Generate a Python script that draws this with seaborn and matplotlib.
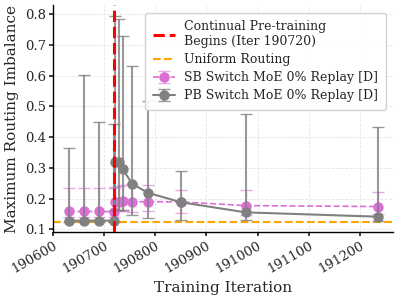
import matplotlib
matplotlib.use("Agg")
import matplotlib.pyplot as plt
import seaborn as sns
import numpy as np
import pandas as pd

# Data
iters = [190630, 190660, 190690, 190719, 190721, 190729, 190736, 190754, 190785, 190850, 190977, 191235]
pb_mean = [0.128, 0.128, 0.128, 0.128, 0.320, 0.318, 0.297, 0.249, 0.219, 0.188, 0.155, 0.141]
pb_low = [0.125, 0.125, 0.125, 0.125, 0.162, 0.162, 0.162, 0.145, 0.137, 0.131, 0.131, 0.126]
pb_high = [0.366, 0.601, 0.449, 0.443, 0.796, 0.785, 0.729, 0.631, 0.519, 0.290, 0.477, 0.432]
sb_mean = [0.158, 0.158, 0.158, 0.157, 0.188, 0.189, 0.191, 0.189, 0.190, 0.189, 0.177, 0.174]
sb_low = [0.139, 0.139, 0.139, 0.139, 0.160, 0.158, 0.158, 0.155, 0.160, 0.153, 0.145, 0.150]
sb_high = [0.235, 0.235, 0.235, 0.235, 0.238, 0.240, 0.243, 0.249, 0.245, 0.227, 0.227, 0.221]
cpt_iter = 190720
uniform = 0.125

sns.set_theme(style="whitegrid")
plt.rcParams['font.family'] = ['DejaVu Serif']
plt.rcParams['grid.linestyle'] = '--'
plt.rcParams['grid.color'] = '#e4e4e4'
plt.rcParams['grid.linewidth'] = 0.6

df = pd.DataFrame({"iter": iters, "pb": pb_mean, "sb": sb_mean})

fig, ax = plt.subplots(figsize=(3.99, 2.95), dpi=100)
fig.subplots_adjust(left=0.133, right=0.985, top=0.982, bottom=0.214)

ax.axvline(cpt_iter, color='red', linestyle='--', linewidth=2.2,
           label='Continual Pre-training\nBegins (Iter 190720)', zorder=5)
ax.axhline(uniform, color='orange', linestyle='--', linewidth=1.5,
           label='Uniform Routing', zorder=1)

sb_err = [np.array(sb_mean) - np.array(sb_low), np.array(sb_high) - np.array(sb_mean)]
eb1 = ax.errorbar(df["iter"], df["sb"], yerr=sb_err, color='orchid', linestyle='--',
                  linewidth=1.2, marker='o', markersize=6.5, capsize=4,
                  elinewidth=1.0, ecolor=(0.855, 0.439, 0.839, 0.6),
                  label='SB Switch MoE 0% Replay [D]', zorder=3)

pb_err = [np.array(pb_mean) - np.array(pb_low), np.array(pb_high) - np.array(pb_mean)]
eb2 = ax.errorbar(df["iter"], df["pb"], yerr=pb_err, color='gray', linestyle='-',
                  linewidth=1.5, marker='o', markersize=6.5, capsize=4,
                  elinewidth=1.5, ecolor=(0.5, 0.5, 0.5, 0.8),
                  label='PB Switch MoE 0% Replay [D]', zorder=4)

ax.set_xlabel("Training Iteration", fontsize=11)
ax.set_ylabel("Maximum Routing Imbalance", fontsize=11)
ax.tick_params(axis='both', labelsize=9.5, length=3, left=True, bottom=True, pad=2)
plt.setp(ax.get_xticklabels(), rotation=30, ha='right', rotation_mode='anchor')
for s in ['top', 'right']:
    ax.spines[s].set_visible(False)
for s in ['left', 'bottom']:
    ax.spines[s].set_color('black')
    ax.spines[s].set_linewidth(1.0)
ax.set_facecolor('white')

ax.legend(loc='upper right', fontsize=9.0, frameon=True, framealpha=0.9,
          borderpad=0.6, labelspacing=0.4, handlelength=1.8, handletextpad=0.7,
          borderaxespad=0.6)

fig.savefig("out.png", dpi=100)
